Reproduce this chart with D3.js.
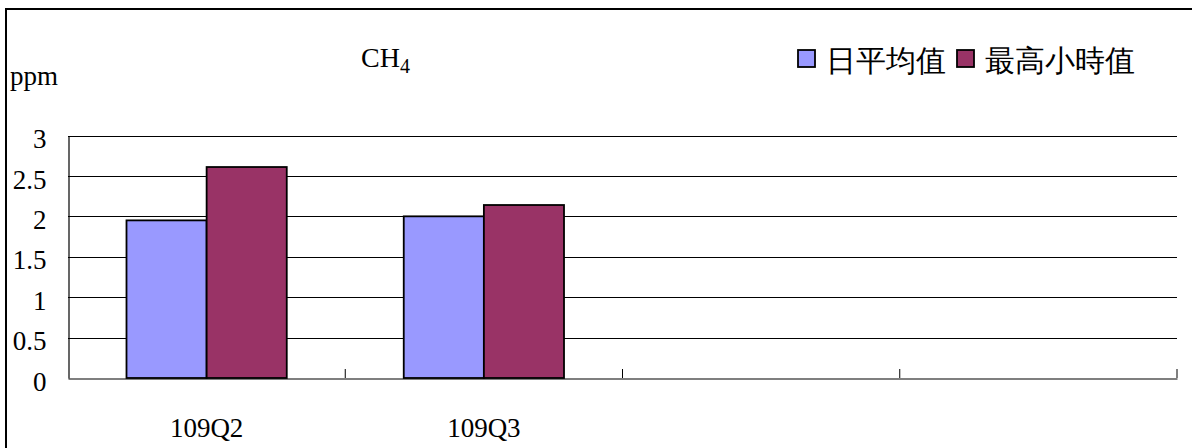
<!DOCTYPE html>
<html>
<head>
<meta charset="utf-8">
<script src="https://cdn.jsdelivr.net/npm/d3@7"></script>
<style>
  body { margin: 0; background: #fff; }
  svg text { font-family: "Liberation Serif", "DejaVu Serif", serif; fill: #000; }
</style>
</head>
<body>
<svg id="chart" width="1192" height="448"></svg>
<script>
// chart data
const categories = ['109Q2', '109Q3', '', ' '];
const seriesNames = ['日平均值', '最高小時值'];
const dailyAvg = [1.95, 2.0, null, null];
const maxHourly = [2.61, 2.14, null, null];
const yTicks = [0, 0.5, 1, 1.5, 2, 2.5, 3];
const seriesColors = ['#9999FF', '#993366'];

const svg = d3.select('#chart');
const plotLeft = 68, plotRight = 1177, plotTop = 135.5, plotBottom = 378;

// outer frame (runs off the right / bottom edge)
svg.append('path')
    .attr('d', 'M6,460 L6,9 L1200,9')
    .attr('fill', 'none')
    .attr('stroke', '#000')
    .attr('stroke-width', 2);

const x = d3.scaleBand().domain(categories).range([plotLeft, plotRight]).paddingInner(0).paddingOuter(0);
const x1 = d3.scaleBand().domain([0, 1]).range([0, x.bandwidth()]).paddingInner(0).paddingOuter(0.73);
const y = d3.scaleLinear().domain([0, 3]).range([plotBottom, plotTop]);

// gridlines
svg.append('g').selectAll('line')
    .data(yTicks.filter(t => t > 0))
    .join('line')
    .attr('x1', plotLeft).attr('x2', plotRight)
    .attr('y1', d => Math.round(y(d)) + 0.5).attr('y2', d => Math.round(y(d)) + 0.5)
    .attr('stroke', '#000').attr('stroke-width', 1);

// y axis
const yAxis = svg.append('g')
    .attr('transform', `translate(${plotLeft + 0.5},0)`)
    .call(d3.axisLeft(y).tickValues(yTicks).tickSize(0).tickPadding(22).tickFormat(d3.format('')));
yAxis.select('.domain').attr('stroke', '#000').attr('stroke-width', 1.2);
yAxis.selectAll('text').attr('font-size', 27).attr('dy', '0.45em')
    .attr('font-family', '"Liberation Serif", serif');

// bars
const rows = categories.map((c, i) => ({ cat: c, vals: [dailyAvg[i], maxHourly[i]] }));
const groups = svg.append('g').selectAll('g')
    .data(rows)
    .join('g')
    .attr('transform', d => `translate(${x(d.cat)},0)`);
groups.selectAll('rect')
    .data(d => d.vals.map((v, k) => ({ v, k })).filter(e => e.v != null))
    .join('rect')
    .attr('x', e => x1(e.k))
    .attr('width', x1.bandwidth())
    .attr('y', e => y(e.v))
    .attr('height', e => plotBottom - y(e.v))
    .attr('fill', e => seriesColors[e.k])
    .attr('stroke', '#000')
    .attr('stroke-width', 1.8);

// x axis
const xAxis = svg.append('g')
    .attr('transform', `translate(0,${plotBottom + 0.5})`)
    .call(d3.axisBottom(x).tickSize(0).tickPadding(39));
xAxis.select('.domain').attr('stroke', '#000').attr('stroke-width', 1.2);
xAxis.selectAll('text').attr('font-size', 27).attr('font-family', '"Liberation Serif", serif');
// category boundary ticks pointing up
svg.append('g').selectAll('line')
    .data(categories)
    .join('line')
    .attr('x1', d => x(d) + x.bandwidth()).attr('x2', d => x(d) + x.bandwidth())
    .attr('y1', plotBottom - 9).attr('y2', plotBottom)
    .attr('stroke', '#000').attr('stroke-width', 1);

// unit label
svg.append('text').attr('x', 10).attr('y', 85).attr('font-size', 27).text('ppm');

// title CH4
const title = svg.append('text').attr('x', 361).attr('y', 67).attr('font-size', 28);
title.append('tspan').text('CH');
title.append('tspan').attr('font-size', 20).attr('dy', 6).text('4');

// legend
const legendX = [798, 957];
const legend = svg.append('g').selectAll('g')
    .data(seriesNames)
    .join('g')
    .attr('transform', (d, i) => `translate(${legendX[i]},50)`);
legend.append('rect')
    .attr('width', 17).attr('height', 17)
    .attr('fill', (d, i) => seriesColors[i])
    .attr('stroke', '#000').attr('stroke-width', 1.8);
legend.append('text')
    .attr('x', 28).attr('y', 21)
    .attr('font-size', 30)
    .attr('font-family', '"Noto Sans CJK TC", sans-serif')
    .attr('font-weight', 300)
    .text(d => d);
</script>
</body>
</html>
